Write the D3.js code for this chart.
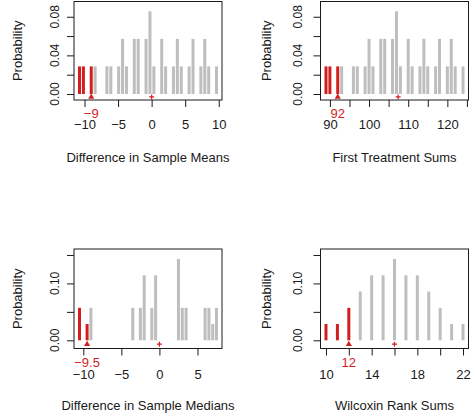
<!DOCTYPE html>
<html>
<head>
<meta charset="utf-8">
<script src="https://cdn.jsdelivr.net/npm/d3@7"></script>
<style>
	body { margin: 0; background: #fff; }
	svg { display: block; font-family: "Liberation Sans", Arial, Helvetica, sans-serif; }
</style>
</head>
<body>
<div id="chart"></div>
<script>
// permutation distributions (7 observations, 4 in first treatment, 35 rearrangements)
var meanDiffs = [-10.75, -10.1667, -9, -8.4167, -6.6667, -6.0833, -4.9167, -4.3333, -3.75, -2.5833, -2, -0.8333, -0.25,
	0.3333, 1.5, 2.0833, 3.25, 3.8333, 4.4167, 5.5833, 6.1667, 7.3333, 7.9167, 8.5, 9.6667];
var treatSums = [89, 90, 92, 93, 96, 97, 99, 100, 101, 103, 104, 106, 107, 108, 110, 111, 113, 114, 115, 117, 118, 120, 121, 122, 124];
var sumProbs = [0.0286, 0.0286, 0.0286, 0.0286, 0.0286, 0.0286, 0.0286, 0.0571, 0.0286, 0.0571, 0.0571, 0.0571, 0.0857,
	0.0286, 0.0571, 0.0286, 0.0286, 0.0571, 0.0286, 0.0286, 0.0571, 0.0286, 0.0571, 0.0286, 0.0286];

var medianDiffs = [-10.5, -9.5, -9, -3.5, -2.5, -2, -1, -0.5, 2.5, 3, 3.5, 6, 6.5, 7, 7.5];
var medianProbs = [0.0571, 0.0286, 0.0571, 0.0571, 0.0571, 0.1143, 0.0571, 0.1143, 0.1429, 0.0571, 0.0571, 0.0571, 0.0571, 0.0286, 0.0571];

var rankSums = [10, 11, 12, 13, 14, 15, 16, 17, 18, 19, 20, 21, 22];
var rankProbs = [0.0286, 0.0286, 0.0571, 0.0857, 0.1143, 0.1143, 0.1429, 0.1143, 0.1143, 0.0857, 0.0571, 0.0286, 0.0286];

var observedValues = [-9, 92, -9.5, 12];
var observedLabels = ["\u22129", "92", "\u22129.5", "12"];
var expectedValues = [0, 107.43, 0, 16];
var axisTitles = ["Difference in Sample Means", "First Treatment Sums", "Difference in Sample Medians", "Wilcoxin Rank Sums"];

var xTicks = [[-10, -5, 0, 5, 10], [90, 95, 100, 105, 110, 115, 120, 125], [-10, -5, 0, 5], [10, 12, 14, 16, 18, 20, 22]];
var xTickLabels = [[-10, -5, 0, 5, 10], [90, 100, 110, 120], [-10, -5, 0, 5], [10, 14, 18, 22]];
var yTicksTop = [0, 0.02, 0.04, 0.06, 0.08];
var yTickLabelsTop = [0, 0.04, 0.08];
var yTicksBottom = [0, 0.05, 0.10, 0.15];
var yTickLabelsBottom = [0, 0.10];

var W = 472, H = 417;
var grey = "#bebebe", red = "#d21e1e", ink = "#1a1a1a";

var svg = d3.select("#chart").append("svg")
	.attr("width", W)
	.attr("height", H);

var panels = [
	{ xs: meanDiffs, ps: sumProbs, col: 0, row: 0 },
	{ xs: treatSums, ps: sumProbs, col: 1, row: 0 },
	{ xs: medianDiffs, ps: medianProbs, col: 0, row: 1 },
	{ xs: rankSums, ps: rankProbs, col: 1, row: 1 }
];

// plot boxes, in pixels
var cols = [{ left: 74, right: 222, tickLab: 55, yTitle: 17 }, { left: 320.5, right: 468.5, tickLab: 298, yTitle: 266.5 }];
var rows = [
	{ top: 1.5, bottom: 100, ylim: [-0.0062, 0.0958], ticks: yTicksTop, labels: yTickLabelsTop, marker: -0.003, pad: 13, obs: 13 },
	{ top: 249, bottom: 348.5, ylim: [-0.0144, 0.1605], ticks: yTicksBottom, labels: yTickLabelsBottom, marker: -0.0068, pad: 14, obs: 13.5 }
];

var numFmt = d3.format("");

panels.forEach(function(p, i) {
	var c = cols[p.col], r = rows[p.row];
	var ext = d3.extent(p.xs), padX = (ext[1] - ext[0]) * 0.04;

	var x = d3.scaleLinear()
		.domain([ext[0] - padX, ext[1] + padX])
		.range([c.left, c.right]);

	var y = d3.scaleLinear()
		.domain(r.ylim)
		.range([r.bottom, r.top]);

	var g = svg.append("g").attr("class", "panel" + i);

	var data = p.xs.map(function(v, k) { return { value: v, prob: p.ps[k] }; });

	// spikes
	g.selectAll(".bar")
		.data(data)
		.enter()
		.append("line")
		.attr("class", "bar")
		.attr("x1", function(d) { return x(d.value); })
		.attr("x2", function(d) { return x(d.value); })
		.attr("y1", y(0))
		.attr("y2", function(d) { return y(d.prob); })
		.attr("stroke", function(d) { return d.value <= observedValues[i] + 1e-9 ? red : grey; })
		.attr("stroke-width", 3);

	// box
	g.append("rect")
		.attr("x", c.left)
		.attr("y", r.top)
		.attr("width", c.right - c.left)
		.attr("height", r.bottom - r.top)
		.attr("fill", "none")
		.attr("stroke", ink)
		.attr("stroke-width", 1);

	// x axis
	var xAxis = d3.axisBottom(x)
		.tickValues(xTicks[i])
		.tickSize(7)
		.tickSizeOuter(0)
		.tickPadding(r.pad)
		.tickFormat(function(d) {
			return xTickLabels[i].indexOf(d) >= 0 ? numFmt(d) : "";
		});

	var gx = g.append("g")
		.attr("transform", "translate(0," + r.bottom + ")")
		.call(xAxis);
	gx.select(".domain").remove();
	gx.selectAll("line").attr("stroke", ink);
	gx.selectAll("text")
		.attr("fill", ink)
		.style("font-size", "13px")
		.style("font-family", null);

	// y axis, labels turned like R's default
	var yAxis = d3.axisLeft(y)
		.tickValues(r.ticks)
		.tickSize(7)
		.tickSizeOuter(0)
		.tickFormat("");

	var gy = g.append("g")
		.attr("transform", "translate(" + c.left + ",0)")
		.call(yAxis);
	gy.select(".domain").remove();
	gy.selectAll("line").attr("stroke", ink);

	g.selectAll(".ylab")
		.data(r.labels)
		.enter()
		.append("text")
		.attr("class", "ylab")
		.attr("transform", function(d) { return "translate(" + c.tickLab + "," + y(d) + ") rotate(-90)"; })
		.attr("dy", "0.35em")
		.attr("text-anchor", "middle")
		.attr("fill", ink)
		.style("font-size", "12px")
		.text(function(d) { return d3.format(".2f")(d); });

	// observed value and mean markers
	g.append("path")
		.attr("d", d3.symbol().type(d3.symbolTriangle).size(16))
		.attr("transform", "translate(" + x(observedValues[i]) + "," + y(r.marker) + ")")
		.attr("fill", red);

	var mx = x(expectedValues[i]), my = y(r.marker);
	g.append("path")
		.attr("d", "M" + (mx - 2.5) + "," + my + "H" + (mx + 2.5) + "M" + mx + "," + (my - 2.5) + "V" + (my + 2.5))
		.attr("stroke", red)
		.attr("stroke-width", 1.2);

	g.append("text")
		.attr("x", x(observedValues[i]))
		.attr("y", r.bottom + r.obs)
		.attr("dy", "0.35em")
		.attr("text-anchor", "middle")
		.attr("fill", red)
		.style("font-size", "13px")
		.text(observedLabels[i]);

	// titles
	g.append("text")
		.attr("x", (c.left + c.right) / 2)
		.attr("y", r.bottom + 57)
		.attr("dy", "0.35em")
		.attr("text-anchor", "middle")
		.attr("fill", ink)
		.style("font-size", "13px")
		.text(axisTitles[i]);

	g.append("text")
		.attr("transform", "translate(" + c.yTitle + "," + ((r.top + r.bottom) / 2) + ") rotate(-90)")
		.attr("dy", "0.35em")
		.attr("text-anchor", "middle")
		.attr("fill", ink)
		.style("font-size", "13px")
		.text("Probability");
});
</script>
</body>
</html>
